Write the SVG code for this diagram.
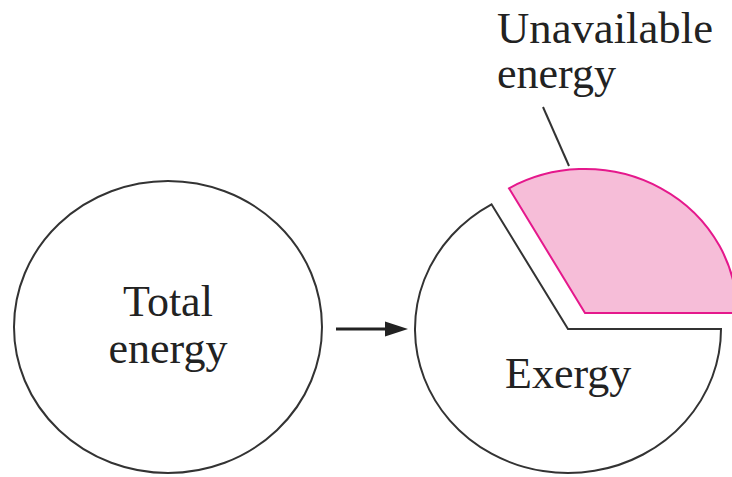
<svg xmlns="http://www.w3.org/2000/svg" width="732" height="477" viewBox="0 0 732 477">
<defs>
<style>
.outline{fill:#ffffff;stroke:#333333;stroke-width:2}
.pink{fill:#f6bdd8;stroke:#e5188c;stroke-width:2}
.lbl{font-family:"Liberation Serif","Times New Roman",serif;font-size:44px;fill:#222222}
.conn{stroke:#222222;stroke-width:3;fill:none}
.lead{stroke:#333333;stroke-width:2;fill:none}
</style>
</defs>
<rect width="732" height="477" fill="#ffffff"/>
<g id="total-energy">
<ellipse class="outline" cx="168" cy="327" rx="154" ry="146"/>
<text class="lbl" x="168" y="316" text-anchor="middle">Total</text>
<text class="lbl" x="168" y="363" text-anchor="middle">energy</text>
</g>
<g id="exergy">
<path class="outline" d="M 568 329 L 721 329 A 153 144 0 1 1 491.5 204.3 Z"/>
<text class="lbl" x="505" y="388">Exergy</text>
</g>
<g id="unavailable-energy">
<path class="pink" d="M 585 313 L 509 188.3 A 152 144 0 0 1 737 313 Z"/>
<text class="lbl" x="497" y="43" textLength="216" lengthAdjust="spacingAndGlyphs">Unavailable</text>
<text class="lbl" x="497" y="88">energy</text>
</g>
<g id="connectors">
<line class="conn" x1="336" y1="329" x2="390" y2="329"/>
<polygon points="385,321.5 408,329 385,336.5" fill="#222222"/>
<line class="lead" x1="543" y1="107" x2="569" y2="166"/>
</g>
</svg>
